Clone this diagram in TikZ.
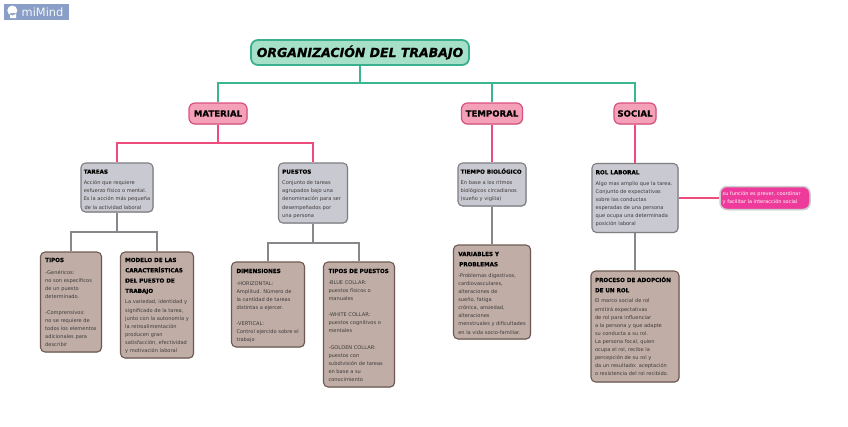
\documentclass[tikz,border=0pt]{standalone}
\usepackage{fontspec}
\setmainfont{DejaVu Sans}[BoldFeatures={FakeBold=0.5},BoldItalicFeatures={FakeBold=0.8}]
\usetikzlibrary{shadows}
\definecolor{gline}{RGB}{60,182,145}
\definecolor{pline}{RGB}{238,76,124}
\definecolor{gyline}{RGB}{135,135,140}
\definecolor{logoc}{RGB}{138,159,200}
\definecolor{tfill}{RGB}{166,224,200}
\definecolor{tdraw}{RGB}{59,176,143}
\definecolor{pfill}{RGB}{244,160,184}
\definecolor{pdraw}{RGB}{217,81,127}
\definecolor{gfill}{RGB}{201,201,209}
\definecolor{gdraw}{RGB}{125,125,130}
\definecolor{bfill}{RGB}{192,174,166}
\definecolor{bdraw}{RGB}{110,90,82}
\definecolor{nfill}{RGB}{238,58,155}
\definecolor{ndraw}{RGB}{205,205,205}
\definecolor{bodyc}{RGB}{62,58,58}
% a text block of exact size: width, height, first baseline, lines
\newcommand{\blk}[4]{\vbox to #2pt{\offinterlineskip\hrule width #1pt height 0pt depth 0pt\vskip\dimexpr #3pt-10.3pt\relax #4\vss}}
\newcommand{\hl}[1]{\vbox to 10.3pt{\vss\hbox{\smash{\fontsize{5.6}{8}\selectfont\bfseries #1}}}}
\newcommand{\bl}[1]{\vbox to 8.1pt{\vss\hbox{\smash{\fontsize{5.1}{8}\selectfont\color{bodyc}#1}}}}
\newcommand{\wl}[1]{\vbox to 8.1pt{\vss\hbox{\smash{\fontsize{5.0}{8}\selectfont\color{white}#1}}}}
\newcommand{\hg}{\vskip2.9pt}
\newcommand{\gap}{\vskip8.1pt}
\tikzset{
 base/.style={rounded corners=4.5pt,inner sep=0pt,line width=1.1pt,
   copy shadow={shadow xshift=0.6pt,shadow yshift=-0.6pt,fill=black,opacity=.22,draw=none}},
 titlebox/.style={base,rounded corners=7pt,fill=tfill,draw=tdraw,line width=1.8pt},
 topicbox/.style={base,rounded corners=6pt,fill=pfill,draw=pdraw,line width=1.2pt},
 graybox/.style={base,fill=gfill,draw=gdraw},
 brownbox/.style={base,fill=bfill,draw=bdraw},
 notebox/.style={base,rounded corners=7pt,fill=nfill,draw=ndraw,line width=1.5pt},
 gl/.style={draw=gline,line width=1.8pt},
 pl/.style={draw=pline,line width=1.8pt},
 gy/.style={draw=gyline,line width=2pt},
 toptext/.style={font=\fontsize{8.6}{9}\selectfont\bfseries}
}
\begin{document}
\begin{tikzpicture}[x=1pt,y=-1pt]
\useasboundingbox (0,0) rectangle (848,426);
% logo
\fill[logoc] (4,4.3) rectangle (69,20);
\fill[white] (12.3,10.5) circle (5) (10,13) rectangle (16,18);
\node[text=white!90!logoc,font=\fontsize{11.4}{12}\selectfont,inner sep=0pt,anchor=west] (logo) at (21.5,12.3) {miMind};
% root and topics
\node[titlebox,minimum width=218pt,minimum height=25pt] (title) at (360,52.5)
 {\fontsize{12.5}{13}\selectfont\bfseries\itshape ORGANIZACIÓN DEL TRABAJO};
\node[topicbox,toptext,minimum width=58pt,minimum height=21pt] (material) at (218,113.5) {MATERIAL};
\node[topicbox,toptext,minimum width=61pt,minimum height=21pt] (temporal) at (492,113.5) {TEMPORAL};
\node[topicbox,toptext,minimum width=42pt,minimum height=21pt] (social) at (635,113.5) {SOCIAL};
% second level
\node[graybox,minimum width=72pt] (tareas) at (117,187.5)
 {\blk{65.5}{49}{10.7}{\hl{TAREAS}\hg\bl{Acción que requiere}\bl{esfuerzo físico o mental.}\bl{Es la acción más pequeña}\bl{\,de la actividad laboral}}};
\node[graybox,minimum width=69pt] (puestos) at (313,193)
 {\blk{61.6}{60}{10.7}{\hl{PUESTOS}\hg\bl{Conjunto de tareas}\bl{agrupados bajo una}\bl{denominación para ser}\bl{desempeñados por}\bl{una persona}}};
\node[graybox,minimum width=68pt] (tiempo) at (492,184.5)
 {\blk{62.6}{43}{10.7}{\hl{TIEMPO BIOLÓGICO}\hg\bl{En base a los ritmos}\bl{biológicos circadianos}\bl{(sueño y vigilia)}}};
\node[graybox,minimum width=86pt] (rol) at (635,198)
 {\blk{78.6}{69}{10.8}{\hl{ROL LABORAL}\hg\bl{Algo mas amplio que la tarea.}\bl{Conjunto de expectativas}\bl{sobre las conductas}\bl{esperadas de una persona}\bl{que ocupa una determinada}\bl{posición laboral}}};
\node[notebox,minimum width=90pt] (nota) at (765,198)
 {\blk{84.6}{23}{10.7}{\wl{su función es prever, coordinar}\wl{y facilitar la interacción social}}};
% third level
\node[brownbox,minimum width=61pt] (tipos) at (71,302)
 {\blk{51.6}{100}{10}{\hl{TIPOS}\vskip3.9pt\bl{-Genéricos:}\bl{no son específicos}\bl{de un puesto}\bl{determinado.}\gap\bl{-Comprensivos:}\bl{no se requiere de}\bl{todos los elementos}\bl{adicionales para}\bl{describir}}};
\node[brownbox,minimum width=73pt] (modelo) at (157,305)
 {\blk{63}{106}{10}{\hl{MODELO DE LAS}\hl{CARACTERÍSTICAS}\hl{DEL PUESTO DE}\hl{TRABAJO}\hg\bl{La variedad, identidad y}\bl{significado de la tarea,}\bl{junto con la autonomía y}\bl{la retroalimentación}\bl{producen gran}\bl{satisfacción, efectividad}\bl{y motivación laboral}}};
\node[brownbox,minimum width=73pt] (dimensiones) at (268,304.5)
 {\blk{63}{85}{11}{\hl{DIMENSIONES}\vskip3.9pt\bl{-HORIZONTAL:}\bl{Amplitud. Número de}\bl{la cantidad de tareas}\bl{distintas a ejercer.}\gap\bl{-VERTICAL:}\bl{Control ejercido sobre el}\bl{trabajo}}};
\node[brownbox,minimum width=71pt] (tipospuestos) at (359,324.5)
 {\blk{61}{125}{11}{\hl{TIPOS DE PUESTOS}\vskip3.2pt\bl{-BLUE COLLAR:}\bl{puestos físicos o}\bl{manuales}\gap\bl{-WHITE COLLAR:}\bl{puestos cognitivos o}\bl{mentales}\gap\bl{-GOLDEN COLLAR:}\bl{puestos con}\bl{subdivisión de tareas}\bl{en base a su}\bl{conocimiento}}};
\node[brownbox,minimum width=77pt] (variables) at (492,292)
 {\blk{66.4}{94}{11}{\hl{VARIABLES Y}\hl{\,PROBLEMAS}\hg\bl{-Problemas digestivos,}\bl{cardiovasculares,}\bl{alteraciones de}\bl{sueño, fatiga}\bl{crónica, ansiedad,}\bl{alteraciones}\bl{menstruales y dificultades}\bl{en la vida socio-familiar.}}};
\node[brownbox,minimum width=88pt] (proceso) at (635,326.5)
 {\blk{80}{111}{11}{\hl{PROCESO DE ADOPCIÓN}\hl{DE UN ROL}\vskip2.5pt\bl{El marco social de rol}\bl{emitirá expectativas}\bl{de rol para influenciar}\bl{a la persona y que adapte}\bl{su conducta a su rol.}\bl{La persona focal, quien}\bl{ocupa el rol, recibe la}\bl{percepción de su rol y}\bl{da un resultado: aceptación}\bl{o resistencia del rol recibido.}}};
% connectors
\coordinate (busroot) at (360,83);
\coordinate (busmat) at (218,143);
\coordinate (bustar) at (117,232);
\coordinate (buspue) at (313,243);
\draw[gl] (title.south) -- (busroot);
\draw[gl] (busroot) -| (material.north);
\draw[gl] (busroot) -| (temporal.north);
\draw[gl] (busroot) -| (social.north);
\draw[pl] (material.south) -- (busmat);
\draw[pl] (busmat) -| (tareas.north);
\draw[pl] (busmat) -| (puestos.north);
\draw[pl] (temporal.south) -- (tiempo.north);
\draw[pl] (social.south) -- (rol.north);
\draw[pl] (rol.east) -- (nota.west);
\draw[gy] (tareas.south) -- (bustar);
\draw[gy] (bustar) -| (tipos.north);
\draw[gy] (bustar) -| (modelo.north);
\draw[gy] (puestos.south) -- (buspue);
\draw[gy] (buspue) -| (dimensiones.north);
\draw[gy] (buspue) -| (tipospuestos.north);
\draw[gy] (tiempo.south) -- (variables.north);
\draw[gy] (rol.south) -- (proceso.north);
\end{tikzpicture}
\end{document}
